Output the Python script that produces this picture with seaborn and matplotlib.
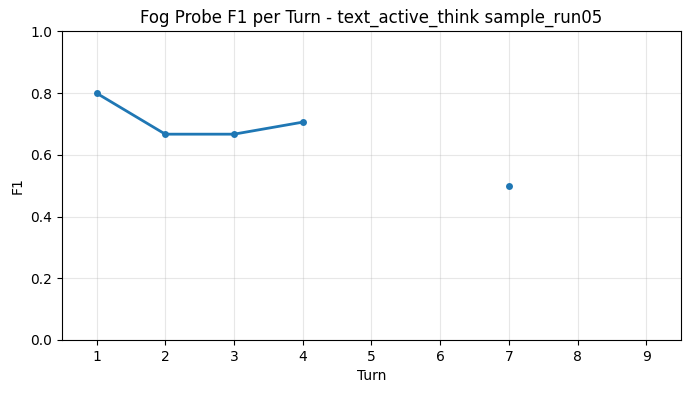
import numpy as np
import pandas as pd
import matplotlib
matplotlib.use("Agg")
import matplotlib.pyplot as plt
import seaborn as sns

turns = [1, 2, 3, 4, 5, 6, 7]
f1 = [0.8, 0.667, 0.667, 0.706, np.nan, np.nan, 0.5]
xticks = [1, 2, 3, 4, 5, 6, 7, 8, 9]

df = pd.DataFrame({"turn": turns, "f1": f1})
# split into runs so gaps stay unconnected
df["seg"] = df["f1"].isna().cumsum()
df = df.dropna()

fig, ax = plt.subplots(figsize=(6.91, 3.93), dpi=100)
sns.lineplot(data=df, x="turn", y="f1", units="seg", estimator=None,
             color="#1f77b4", marker="o", linewidth=2, markersize=5,
             markeredgewidth=0, ax=ax)

ax.set_xlim(0.5, 9.5)
ax.set_ylim(0, 1)
ax.set_xticks(xticks)
ax.set_xlabel("Turn")
ax.set_ylabel("F1")
ax.set_title("Fog Probe F1 per Turn - text_active_think sample_run05")
ax.grid(True, alpha=0.3)

fig.subplots_adjust(left=0.09, right=0.985, top=0.92, bottom=0.135)
fig.savefig("out.png", dpi=100)
